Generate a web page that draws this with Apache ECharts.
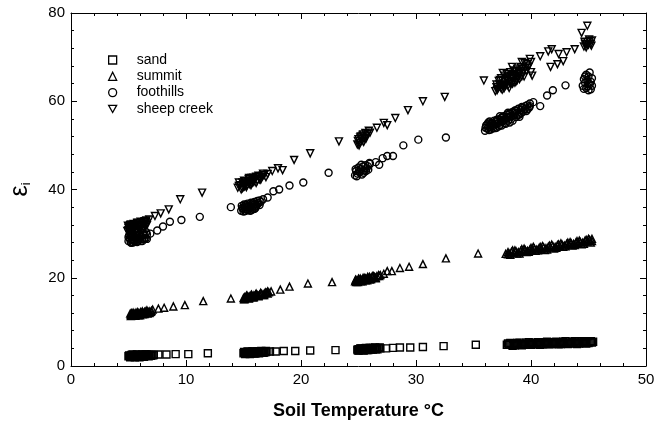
<!DOCTYPE html>
<html>
<head>
<meta charset="utf-8">
<script src="https://cdn.jsdelivr.net/npm/echarts@6/dist/echarts.min.js"></script>
<style>html,body{margin:0;padding:0;background:#fff}#c{width:665px;height:425px}</style>
</head>
<body>
<div id="c"></div>
<script>
const seriesNames = ['sand', 'summit', 'foothills', 'sheep creek'];
const xTicks = [0, 10, 20, 30, 40, 50];
const yTicks = [0, 20, 40, 60, 80];

const sand = [
[5.0,2.2],[5.1,2.3],[5.2,2.1],[5.3,2.3],[5.4,2.2],[5.5,2.4],[5.6,2.2],[5.7,2.3],[5.8,2.4],[5.9,2.3],[6.0,2.2],[6.1,2.4],[6.2,2.3],[6.3,2.4],[6.4,2.3],[6.5,2.4],[6.6,2.5],[6.7,2.4],[6.8,2.5],[7.0,2.5],[7.2,2.5],
[5.05,2.4],[5.25,2.5],[5.45,2.1],[5.65,2.5],[5.85,2.1],[6.05,2.5],[6.25,2.2],[6.45,2.6],[6.65,2.3],[6.9,2.6],[7.1,2.4],
[5.15,2.0],[5.35,2.6],[5.55,2.0],[5.75,2.6],[5.95,2.0],[6.15,2.6],[6.35,2.1],[6.55,2.6],[6.75,2.2],[6.95,2.3],
[7.6,2.6],[8.3,2.6],[9.1,2.7],[10.2,2.7],[11.9,2.9],
[15.0,2.9],[15.1,3.0],[15.2,2.9],[15.3,3.0],[15.4,3.0],[15.5,2.9],[15.6,3.0],[15.7,3.1],[15.8,3.0],[15.9,3.1],[16.0,3.0],[16.1,3.1],[16.2,3.1],[16.4,3.1],[16.6,3.2],[16.8,3.2],[17.0,3.2],
[15.05,3.2],[15.25,2.8],[15.45,3.2],[15.65,2.8],[15.85,3.3],[16.05,2.9],[16.3,3.3],[16.5,3.0],[16.7,3.3],[16.9,3.1],
[15.15,2.7],[15.35,3.3],[15.55,2.7],[15.75,3.3],[15.95,2.8],[16.15,3.3],[16.35,2.9],[16.55,3.4],[16.75,3.0],[16.95,3.4],
[17.3,3.3],[17.8,3.3],[18.5,3.4],[19.5,3.4],[20.8,3.5],[23.0,3.6],
[24.9,3.7],[25.0,3.8],[25.1,3.7],[25.2,3.8],[25.3,3.7],[25.4,3.8],[25.5,3.8],[25.6,3.9],[25.7,3.8],[25.8,3.9],[25.9,3.9],[26.0,3.9],[26.2,3.9],[26.4,4.0],[26.6,4.0],[26.9,4.0],
[24.95,3.5],[25.15,4.0],[25.35,3.6],[25.55,4.0],[25.75,3.6],[25.95,4.1],[26.1,3.7],[26.3,4.1],[26.5,3.8],[26.75,4.1],
[25.05,3.5],[25.25,4.0],[25.45,3.5],[25.65,4.1],[25.85,3.6],[26.05,4.1],[26.25,3.7],[26.45,4.2],[26.65,3.8],[26.85,4.2],
[27.4,4.0],[28.0,4.1],[28.6,4.2],[29.5,4.2],[30.6,4.3],[32.4,4.5],[35.2,4.8],
[37.9,4.8],[38.1,4.9],[38.3,4.8],[38.5,4.9],[38.7,5.0],[38.9,4.9],[39.1,5.0],[39.3,4.9],[39.5,5.0],[39.7,5.0],[39.9,5.1],[40.1,5.0],[40.3,5.1],[40.5,5.0],[40.7,5.1],[40.9,5.1],[41.1,5.0],[41.3,5.1],[41.5,5.2],[41.7,5.1],[41.9,5.1],[42.1,5.2],[42.3,5.1],[42.5,5.2],[42.7,5.2],[42.9,5.1],[43.1,5.2],[43.3,5.3],[43.5,5.2],[43.7,5.2],[43.9,5.3],[44.1,5.2],[44.3,5.3],[44.5,5.3],[44.7,5.4],[44.9,5.3],[45.1,5.4],[45.3,5.3],
[38.0,5.1],[38.4,4.6],[38.8,5.2],[39.2,4.7],[39.6,5.3],[40.0,4.8],[40.4,5.3],[40.8,4.8],[41.2,5.4],[41.6,4.9],[42.0,5.4],[42.4,4.9],[42.8,5.5],[43.2,5.0],[43.6,5.5],[44.0,5.0],[44.4,5.6],[44.8,5.1],[45.2,5.6],
[38.2,5.2],[38.6,4.7],[39.0,5.3],[39.4,4.8],[39.8,5.4],[40.2,4.9],[40.6,5.4],[41.0,4.9],[41.4,5.5],[41.8,5.0],[42.2,5.5],[42.6,5.0],[43.0,5.6],[43.4,5.1],[43.8,5.6],[44.2,5.1],[44.6,5.6],[45.0,5.2],[45.4,5.5]
];

const summit = [
[5.2,11.6],[5.3,11.8],[5.4,11.7],[5.5,11.9],[5.6,11.7],[5.7,11.9],[5.8,11.8],[5.9,12.0],[6.0,11.9],[6.1,12.0],[6.2,12.1],[6.3,12.0],[6.4,12.2],[6.5,12.1],[6.6,12.3],[6.7,12.2],[6.8,12.4],[7.0,12.5],
[5.25,12.0],[5.45,11.4],[5.65,12.1],[5.85,11.5],[6.05,12.2],[6.25,11.7],[6.45,12.4],[6.65,11.9],[6.85,12.1],[5.15,11.9],[5.35,11.5],
[5.2,11.3],[5.4,12.1],[5.6,11.4],[5.8,12.2],[6.0,11.5],[6.2,12.4],[6.4,11.8],[6.6,12.6],[6.8,12.0],[6.95,12.3],
[7.1,12.8],[7.6,13.0],[8.1,13.2],[8.9,13.5],[9.9,13.8],[11.5,14.7],[13.9,15.3],
[15.0,15.4],[15.1,15.6],[15.2,15.5],[15.3,15.7],[15.4,15.6],[15.5,15.8],[15.6,15.7],[15.7,15.9],[15.8,15.8],[15.9,16.0],[16.0,15.9],[16.2,16.1],[16.4,16.2],[16.6,16.3],[16.8,16.4],[17.0,16.6],[17.2,16.7],[17.4,16.9],
[15.05,15.1],[15.25,15.9],[15.45,15.3],[15.65,16.0],[15.85,15.5],[16.05,16.2],[16.3,15.9],[16.5,16.5],[16.7,16.1],[16.9,16.7],[17.1,16.4],
[15.1,15.2],[15.3,16.0],[15.5,15.4],[15.7,16.2],[15.9,15.6],[16.1,16.4],[16.3,15.8],[16.5,16.6],[16.8,16.1],[17.1,16.9],
[18.2,17.3],[19.0,18.0],[20.6,18.7],[22.7,19.0],
[24.7,19.2],[24.8,19.4],[24.9,19.3],[25.0,19.5],[25.1,19.4],[25.2,19.6],[25.3,19.5],[25.4,19.7],[25.5,19.6],[25.6,19.8],[25.7,19.7],[25.8,19.9],[25.9,19.8],[26.0,20.0],[26.2,20.1],[26.4,20.2],[26.6,20.4],[26.9,20.6],
[24.75,19.6],[24.95,19.0],[25.15,19.8],[25.35,19.2],[25.55,20.0],[25.75,19.4],[25.95,20.2],[26.1,19.7],[26.3,20.4],[26.5,20.0],[26.75,20.6],
[24.8,19.0],[25.0,19.8],[25.2,19.2],[25.4,20.0],[25.6,19.4],[25.8,20.2],[26.0,19.6],[26.2,20.4],[26.5,19.9],[26.8,20.4],
[27.2,20.9],[27.5,21.5],[27.9,21.5],[28.6,22.2],[29.4,22.5],[30.6,23.1],[32.6,24.4],[35.4,25.5],
[37.8,25.4],[38.0,25.8],[38.1,25.5],[38.3,25.9],[38.5,25.7],[38.7,26.0],[38.9,25.8],[39.1,26.1],[39.3,26.0],[39.5,26.3],[39.7,26.1],[39.9,26.4],[40.1,26.3],[40.3,26.6],[40.5,26.4],[40.7,26.7],[40.9,26.6],[41.1,26.9],[41.3,26.7],[41.5,27.0],[41.7,26.9],[41.9,27.2],[42.1,27.0],[42.3,27.4],[42.5,27.2],[42.7,27.5],[42.9,27.3],[43.1,27.7],[43.3,27.5],[43.5,27.8],[43.7,27.7],[43.9,28.0],[44.1,27.8],[44.3,28.1],[44.5,28.0],[44.7,28.4],[44.9,28.2],[45.1,28.6],[45.3,28.3],
[38.2,25.2],[38.6,26.2],[39.0,25.5],[39.4,26.6],[39.8,25.9],[40.2,27.0],[40.6,26.2],[41.0,27.2],[41.4,26.4],[41.8,27.5],[42.2,26.8],[42.6,27.8],[43.0,27.1],[43.4,28.1],[43.8,27.4],[44.2,28.4],[44.6,27.7],[45.0,28.8],[45.2,28.0],
[38.0,25.3],[38.4,26.2],[38.8,25.5],[39.2,26.5],[39.6,25.8],[40.0,26.8],[40.4,26.1],[40.8,27.0],[41.2,26.3],[41.6,27.3],[42.0,26.6],[42.4,27.6],[42.8,27.0],[43.2,28.0],[43.6,27.3],[44.0,28.3],[44.4,27.6],[44.8,28.6],[45.3,28.8]
];

const foothills = [
[5.0,28.3],[5.1,29.0],[5.2,28.0],[5.3,28.7],[5.4,29.3],[5.5,28.2],[5.6,28.9],[5.7,29.5],[5.8,28.4],[5.9,29.1],[6.0,28.6],[6.1,29.4],[6.2,28.8],[6.3,29.6],[6.4,29.0],[6.5,28.9],[6.6,29.8],
[5.05,29.6],[5.15,28.6],[5.35,29.9],[5.45,28.5],[5.65,30.1],[5.75,28.1],[5.95,29.8],[6.05,28.3],[6.25,30.2],[6.35,28.7],[6.55,30.3],[5.25,27.9],
[5.0,29.2],[5.2,29.6],[5.4,28.0],[5.6,29.6],[5.8,28.8],[6.0,30.0],[6.2,28.3],[6.4,29.8],[6.6,28.8],[5.5,29.1],
[6.9,30.0],[7.5,30.7],[8.0,31.6],[8.6,32.7],[9.6,33.1],[11.2,33.8],[13.9,36.0],
[14.8,35.2],[14.9,35.8],[15.0,35.0],[15.1,36.2],[15.2,35.5],[15.3,36.0],[15.4,35.3],[15.5,36.4],[15.6,35.8],[15.7,36.6],[15.8,36.1],[15.9,35.6],[16.0,36.8],[16.1,36.3],[16.3,36.9],[16.5,37.2],
[14.85,36.3],[15.05,36.6],[15.15,35.1],[15.35,36.8],[15.45,35.9],[15.65,37.0],[15.75,35.4],[15.95,37.2],[16.05,35.9],[16.2,37.4],[16.4,36.5],
[15.0,35.6],[15.2,36.5],[15.4,36.1],[15.6,35.2],[15.8,36.9],[16.0,35.7],[16.2,36.6],[16.4,37.5],[15.3,35.5],[15.9,36.4],
[16.7,37.8],[17.1,38.2],[17.6,39.6],[18.1,40.0],[19.0,40.9],[20.2,41.6],[22.4,43.8],
[24.7,43.2],[24.8,44.2],[24.9,43.6],[25.0,45.0],[25.1,43.9],[25.2,44.6],[25.3,43.4],[25.4,45.2],[25.5,44.3],[25.6,45.5],[25.7,44.8],[25.8,45.3],[26.0,45.8],
[24.75,44.6],[24.85,43.0],[25.05,44.1],[25.25,45.6],[25.45,43.8],[25.65,44.2],[25.85,44.5],[25.95,46.0],
[26.5,46.2],[26.8,45.6],[27.1,47.1],[27.5,47.6],[28.0,47.6],[28.9,50.0],[30.2,51.3],[32.6,51.8],
[36.0,53.3],[36.1,54.5],[36.2,53.8],[36.3,55.2],[36.4,54.1],[36.5,53.6],[36.6,55.0],[36.7,54.4],[36.8,55.6],[36.9,54.8],[37.0,54.0],[37.1,55.9],[37.2,55.1],[37.3,54.6],[37.4,56.2],[37.5,55.4],[37.6,56.6],[37.7,55.0],[37.8,56.0],[37.9,57.0],[38.0,55.6],[38.1,56.5],[38.2,57.3],[38.3,56.0],[38.4,57.6],[38.5,56.8],[38.6,57.9],[38.7,56.4],[38.8,57.4],[38.9,58.3],[39.0,57.0],[39.1,58.0],[39.2,58.7],[39.3,57.6],[39.5,58.9],[39.7,58.2],[39.9,59.5],[40.2,59.8],
[36.05,54.0],[36.35,53.5],[36.55,54.5],[36.85,53.9],[37.05,55.3],[37.35,55.8],[37.65,55.7],[37.95,56.3],[38.25,56.6],[38.55,57.4],[38.85,56.9],[39.15,57.4],[39.45,58.2],[39.65,59.1],[39.85,58.6],[38.15,55.2],[37.45,54.5],
[36.2,54.8],[36.4,55.4],[36.7,53.9],[37.0,55.7],[37.2,54.3],[37.5,56.3],[37.8,54.9],[38.1,57.1],[38.4,55.6],[38.7,57.9],[39.0,56.5],[39.3,58.6],[39.6,57.8],[39.9,58.9],[38.0,57.4],[37.3,56.6],[36.5,54.9],
[40.8,58.9],[41.4,61.3],[41.9,62.5],[43.0,63.6],
[44.5,63.5],[44.6,65.0],[44.6,62.8],[44.7,64.2],[44.8,66.0],[44.8,63.0],[44.9,64.8],[45.0,62.5],[45.0,65.6],[45.1,63.8],[45.1,66.5],[45.2,64.4],[45.2,62.7],[45.3,65.2],
[44.7,65.6],[44.9,63.4],[45.0,64.1],[45.3,63.5]
];

const sheepCreek = [
[4.9,30.6],[5.0,31.3],[5.1,30.3],[5.2,31.0],[5.3,31.6],[5.4,30.5],[5.5,31.2],[5.6,31.8],[5.7,30.8],[5.8,31.5],[5.9,32.0],[6.0,31.1],[6.1,31.8],[6.2,32.3],[6.3,31.4],[6.4,32.1],[6.5,32.6],[6.6,31.9],
[4.95,31.8],[5.05,30.0],[5.15,31.9],[5.35,30.2],[5.45,32.2],[5.65,30.4],[5.75,32.4],[5.95,30.9],[6.05,32.7],[6.25,31.0],[6.45,31.5],[6.55,33.0],
[5.0,30.8],[5.2,32.1],[5.4,31.4],[5.6,30.6],[5.8,32.5],[6.0,31.6],[6.2,30.6],[6.4,32.8],[6.6,32.3],[5.1,31.5],
[6.8,33.2],[7.3,34.0],[7.8,34.6],[8.5,35.5],[9.5,37.8],[11.4,39.3],
[14.5,40.4],[14.7,41.0],[14.9,40.3],[15.0,41.3],[15.1,40.7],[15.2,41.6],[15.3,40.9],[15.4,41.8],[15.5,41.2],[15.6,42.0],[15.7,41.4],[15.8,42.2],[15.9,41.7],[16.0,42.4],[16.2,42.0],[16.4,42.7],[16.6,42.9],[16.8,43.3],[17.1,43.5],
[14.6,41.6],[14.8,40.0],[15.05,42.0],[15.25,40.5],[15.45,42.4],[15.65,41.0],[15.85,42.7],[16.1,41.5],[16.3,43.1],[16.5,42.2],[16.7,43.6],[16.95,42.8],
[14.6,40.8],[14.9,41.6],[15.2,41.1],[15.5,42.6],[15.8,41.6],[16.1,42.9],[16.4,42.3],[16.7,43.2],[15.0,40.6],[15.7,42.6],
[17.5,44.2],[18.0,44.8],[18.4,44.4],[19.4,46.7],[20.8,48.2],[23.3,50.9],
[24.9,50.2],[25.0,51.4],[25.1,50.6],[25.2,52.0],[25.3,51.0],[25.4,52.5],[25.5,51.6],[25.6,52.8],[25.7,52.2],[25.9,53.3],
[24.95,51.0],[25.05,50.0],[25.15,51.8],[25.35,52.2],[25.45,50.8],[25.65,51.5],[25.8,52.6],
[26.0,52.9],[26.6,54.0],[27.2,55.1],[27.5,54.6],[28.2,56.2],[29.3,58.0],[30.6,60.0],[32.5,61.0],[35.9,64.7],
[36.9,62.3],[37.0,63.8],[37.1,62.8],[37.2,64.6],[37.3,63.3],[37.4,65.2],[37.5,62.6],[37.6,64.0],[37.7,65.8],[37.8,63.5],[37.9,66.2],[38.0,64.6],[38.1,63.0],[38.2,66.6],[38.3,65.3],[38.4,64.0],[38.5,67.0],[38.6,65.8],[38.7,64.5],[38.8,67.4],[38.9,66.2],[39.0,65.0],[39.1,67.8],[39.2,68.9],[39.3,66.5],[39.5,67.5],[39.7,68.4],[39.9,69.6],[40.1,65.8],
[37.05,62.5],[37.25,63.8],[37.45,63.7],[37.65,62.9],[37.85,64.9],[38.05,65.6],[38.25,64.3],[38.45,65.9],[38.65,66.8],[38.85,65.3],[39.05,66.4],[39.25,67.4],[39.45,68.6],[39.6,66.8],[39.8,67.9],[40.0,68.9],[38.35,67.8],[37.55,66.4],
[37.0,63.2],[37.3,64.8],[37.6,63.4],[37.9,65.4],[38.2,64.0],[38.5,66.2],[38.8,64.8],[39.1,66.9],[39.4,65.6],[39.7,67.6],[40.0,66.6],[37.4,62.9],[38.0,63.6],[38.6,64.2],[39.2,65.6],
[40.8,70.2],[41.5,71.3],[41.8,71.8],[42.4,70.7],[43.1,71.1],[43.8,71.8],[41.7,67.8],[42.3,68.4],[42.8,69.1],
[44.6,72.4],[44.7,73.0],[44.8,72.2],[44.9,73.4],[45.0,72.8],[45.1,73.6],[45.2,73.0],[45.3,73.8],[44.4,75.5],[44.9,77.1],
[44.65,73.5],[44.85,72.9],[45.05,74.0],[45.25,72.6]
];

const chart = echarts.init(document.getElementById('c'), null, {renderer: 'canvas'});
const font = 'Liberation Sans, Arial, sans-serif';
const mk = (name, data, symbol, rot) => ({
  name, type: 'scatter', data, symbol, symbolSize: 7, symbolRotate: rot || 0, symbolKeepAspect: true,
  itemStyle: {color: 'rgba(255,255,255,0)', borderColor: '#000', borderWidth: 1.4, opacity: 1},
  emphasis: {disabled: true}, animation: false
});
const axisCommon = {
  min: 0, axisLine: {show: true, onZero: false, lineStyle: {color: '#000', width: 1}},
  axisTick: {show: true, inside: true, length: 6, lineStyle: {color: '#000'}},
  minorTick: {show: true, splitNumber: 5, length: 3, lineStyle: {color: '#000'}},
  splitLine: {show: false}
};
chart.setOption({
  backgroundColor: '#fff',
  animation: false,
  grid: {left: 70, right: 19, top: 13, bottom: 52},
  legend: {
    data: [
      {name: seriesNames[0]}, {name: seriesNames[1]}, {name: seriesNames[2]},
      {name: seriesNames[3], icon: 'path://M0,0L10,0L5,9Z'}
    ],
    orient: 'vertical', left: 103, top: 47,
    itemWidth: 8, itemHeight: 8, itemGap: 0.3,
    itemStyle: {borderWidth: 1.3},
    textStyle: {fontFamily: font, fontSize: 14, color: '#000', lineHeight: 16, padding: [0, 0, 0, 15]},
    selectedMode: false
  },
  xAxis: [
    Object.assign({}, axisCommon, {
      type: 'value', max: xTicks[xTicks.length - 1], interval: 10, position: 'bottom',
      axisLabel: {color: '#000', fontFamily: font, fontSize: 15, margin: 6},
      name: 'Soil Temperature °C', nameLocation: 'middle', nameGap: 36,
      nameTextStyle: {color: '#000', fontFamily: font, fontSize: 18, fontWeight: 'bold'}
    }),
    Object.assign({}, axisCommon, {
      type: 'value', max: 50, interval: 10, position: 'top', axisLabel: {show: false}
    })
  ],
  yAxis: [
    Object.assign({}, axisCommon, {
      type: 'value', max: yTicks[yTicks.length - 1], interval: 20, position: 'left',
      axisLabel: {color: '#000', fontFamily: font, fontSize: 15, margin: 6},
      name: '{e|ε}{s|i}', nameLocation: 'middle', nameGap: 38, nameRotate: 90,
      nameTextStyle: {color: '#000', rich: {
        e: {fontFamily: font, fontSize: 25, color: '#000'},
        s: {fontFamily: font, fontSize: 13, color: '#000', verticalAlign: 'bottom', padding: [10, 0, 0, 0]}
      }}
    }),
    Object.assign({}, axisCommon, {
      type: 'value', max: 80, interval: 20, position: 'right', axisLabel: {show: false}
    })
  ],
  series: [
    mk(seriesNames[0], sand, 'rect'),
    mk(seriesNames[1], summit, 'triangle'),
    mk(seriesNames[2], foothills, 'circle'),
    mk(seriesNames[3], sheepCreek, 'triangle', 180)
  ]
});
</script>
</body>
</html>
